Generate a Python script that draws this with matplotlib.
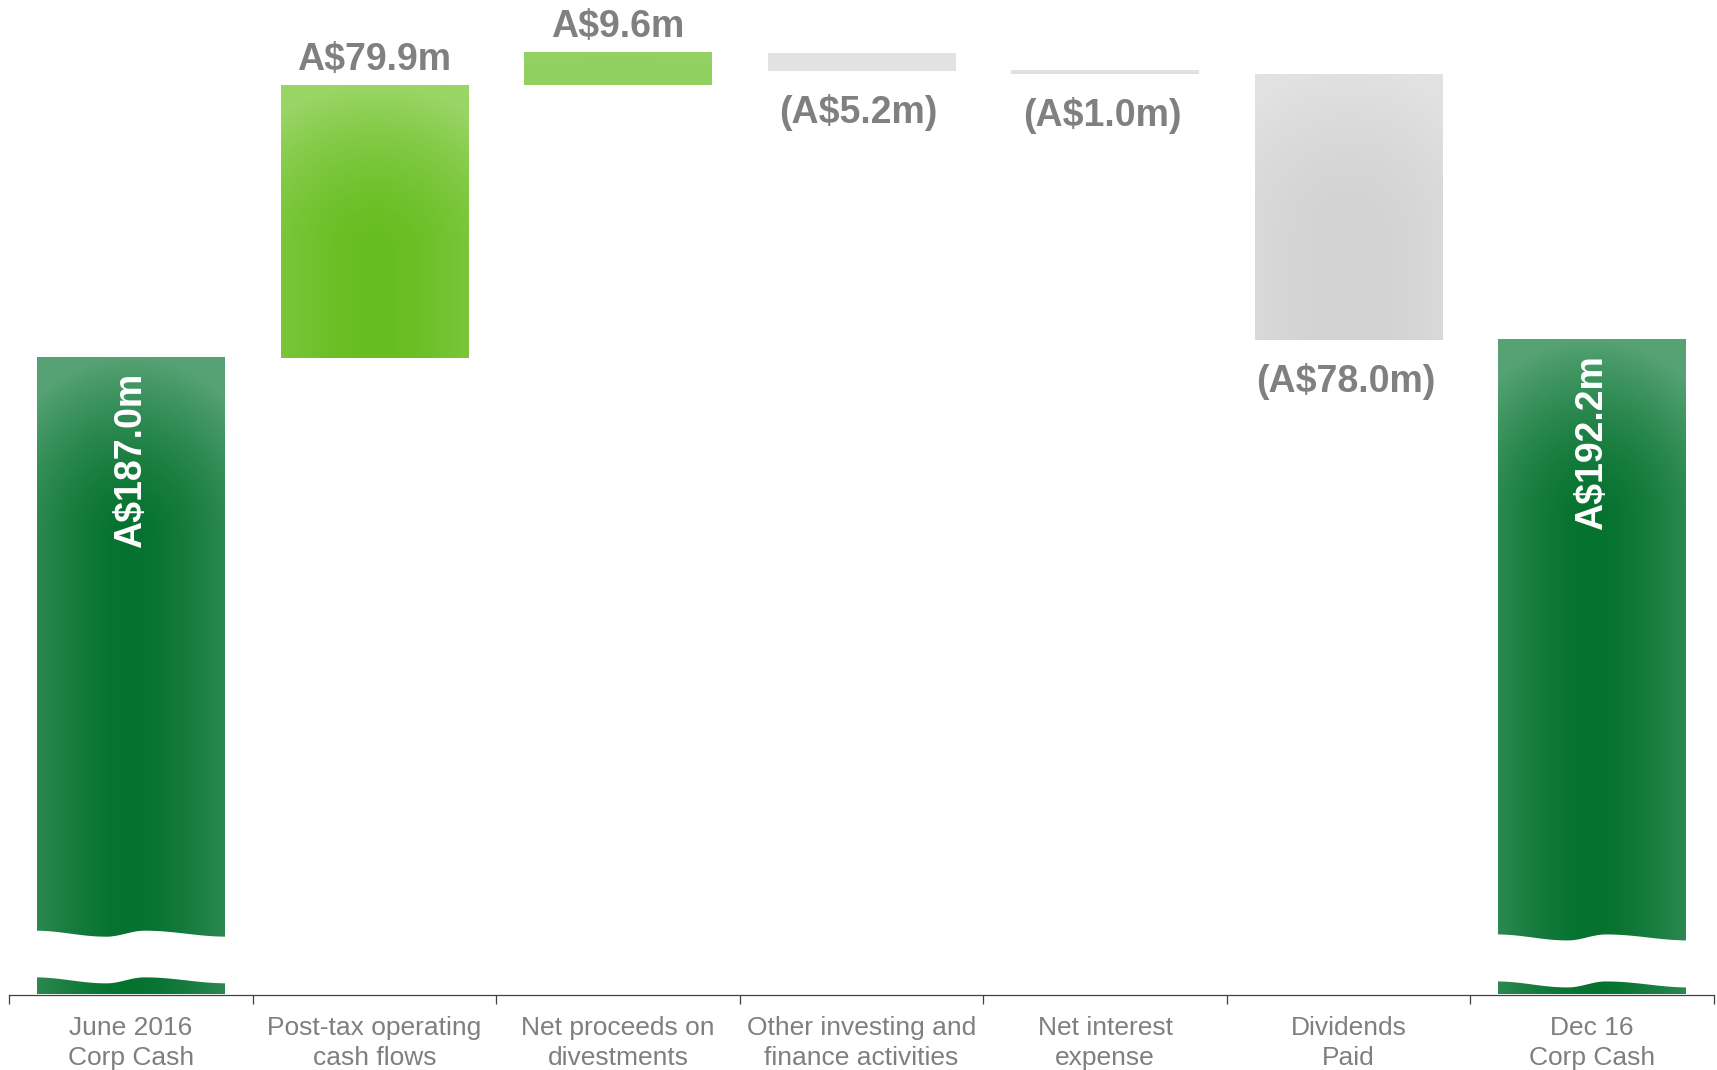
import numpy as np
import matplotlib.pyplot as plt
from matplotlib.colors import to_rgb

plt.rcParams['font.family'] = ['Liberation Sans', 'DejaVu Sans']

# data
categories = ['June 2016\nCorp Cash', 'Post-tax operating\ncash flows', 'Net proceeds on\ndivestments',
              'Other investing and\nfinance activities', 'Net interest\nexpense', 'Dividends\nPaid',
              'Dec 16\nCorp Cash']
opening = 187.0
changes = [79.9, 9.6, -5.2, -1.0, -78.0]
closing = 192.2
value_labels = ['A$187.0m', 'A$79.9m', 'A$9.6m', '(A$5.2m)', '(A$1.0m)', '(A$78.0m)', 'A$192.2m']

# waterfall geometry
steps = np.array(changes)
level = opening + np.concatenate([[0], np.cumsum(steps)])
bottoms = [0] + list(np.minimum(level[:-1], level[1:])) + [0]
heights = [opening] + list(np.abs(steps)) + [closing]

# gradient styles: dark centre, light edge, centre depth from top (px), x / y radius (px)
styles = [
    ('#05722f', '#56a274', 180, 150, 180),
    ('#66bd1f', '#9ad566', 165, 170, 165),
    ('#91d05f', '#94d163', 20, 300, 20),
    ('#e2e2e2', '#e3e3e3', 10, 300, 10),
    ('#e0e0e0', '#e2e2e2', 5, 300, 5),
    ('#d2d2d2', '#e1e1e1', 160, 150, 160),
    ('#05722f', '#56a274', 180, 150, 180),
]
GRAY = '#808080'

fig = plt.figure(figsize=(17.17, 10.70), dpi=100)
ax = fig.add_axes([9 / 1717, 75.5 / 1070, 1705 / 1717, 994.5 / 1070])
ax.set_xlim(-0.5, len(categories) - 0.5)
ax.set_ylim(0, 292)
ax.set_autoscale_on(False)


def gradient(ax, patch, dark, light, cy, rx, ry):
    x0, y0 = patch.get_x(), patch.get_y()
    w, h = patch.get_width(), patch.get_height()
    (px0, py0), (px1, py1) = ax.transData.transform([(x0, y0), (x0 + w, y0 + h)])
    wpx, hpx = max(abs(px1 - px0), 2), max(abs(py1 - py0), 2)
    yy, xx = np.mgrid[0:hpx:int(hpx) * 1j + 2j, 0:wpx:int(wpx) * 1j + 2j]
    dx = np.abs(xx - wpx / 2)
    dy = np.clip(cy - yy, 0, None)
    t = np.clip(np.hypot(dx / rx, dy / ry), 0, 1) ** 1.6
    d, l = np.array(to_rgb(dark)), np.array(to_rgb(light))
    ax.imshow(d + (l - d) * t[..., None], extent=[x0, x0 + w, y0, y0 + h], origin='upper',
              aspect='auto', interpolation='bilinear', zorder=2)


def wiggle(t):
    kt = [0.0, 0.37, 0.57, 1.0]
    kv = [1.0, -1.0, 1.0, -1.0]
    out = np.empty_like(t)
    for i in range(len(kt) - 1):
        m = (t >= kt[i]) & (t <= kt[i + 1])
        s = (t[m] - kt[i]) / (kt[i + 1] - kt[i])
        out[m] = kv[i] + (kv[i + 1] - kv[i]) * (1 - np.cos(np.pi * s)) / 2
    return out


x = np.arange(len(categories))
bars = ax.bar(x, heights, bottom=bottoms, width=0.77, color='none', edgecolor='none', zorder=2)

for bar, st in zip(bars, styles):
    gradient(ax, bar, *st)

# axis-break waves on the two totals
breaks = {0: (4.3, 18.0), 6: (3.1, 16.9)}
for i, (lo, hi) in breaks.items():
    b = bars[i]
    xs = np.linspace(b.get_x() - 0.01, b.get_x() + b.get_width() + 0.01, 200)
    t = np.linspace(0, 1, 200)
    wv = 0.88 * wiggle(t)
    ax.fill_between(xs, lo + wv, hi + wv, color='white', lw=0, zorder=3)

# value labels
for i, (bar, lab) in enumerate(zip(bars, value_labels)):
    top = bar.get_y() + bar.get_height()
    cx = bar.get_x() + bar.get_width() / 2
    if i in (0, 6):
        ax.annotate(lab, (cx, top), xytext=(0, -11), textcoords='offset points',
                    rotation=90, ha='center', va='top',
                    color='white', fontsize=27, fontweight='bold', zorder=4)
    elif changes[i - 1] > 0:
        ax.annotate(lab, (cx, top), xytext=(0, 11.5), textcoords='offset points',
                    ha='center', va='baseline',
                    color=GRAY, fontsize=27, fontweight='bold', zorder=4)
    else:
        ax.annotate(lab, (cx, bar.get_y()), xytext=(-2, -37.5), textcoords='offset points',
                    ha='center', va='baseline',
                    color=GRAY, fontsize=27, fontweight='bold', zorder=4)

for s in ('top', 'left', 'right'):
    ax.spines[s].set_visible(False)
ax.spines['bottom'].set_color('#404040')
ax.spines['bottom'].set_linewidth(0.9)
ax.set_yticks([])

ax.set_xticks(np.arange(-0.5, len(categories)), [''] * (len(categories) + 1))
ax.tick_params(axis='x', which='major', length=6.5, width=0.9, color='#404040', direction='out')
ax.set_xticks(x, categories, minor=True)
ax.tick_params(axis='x', which='minor', length=0, pad=15.5, labelsize=19, labelcolor='#7f7f7f')
for lab in ax.get_xticklabels(minor=True):
    lab.set_linespacing(1.3)

fig.savefig('out.png', dpi=100)
